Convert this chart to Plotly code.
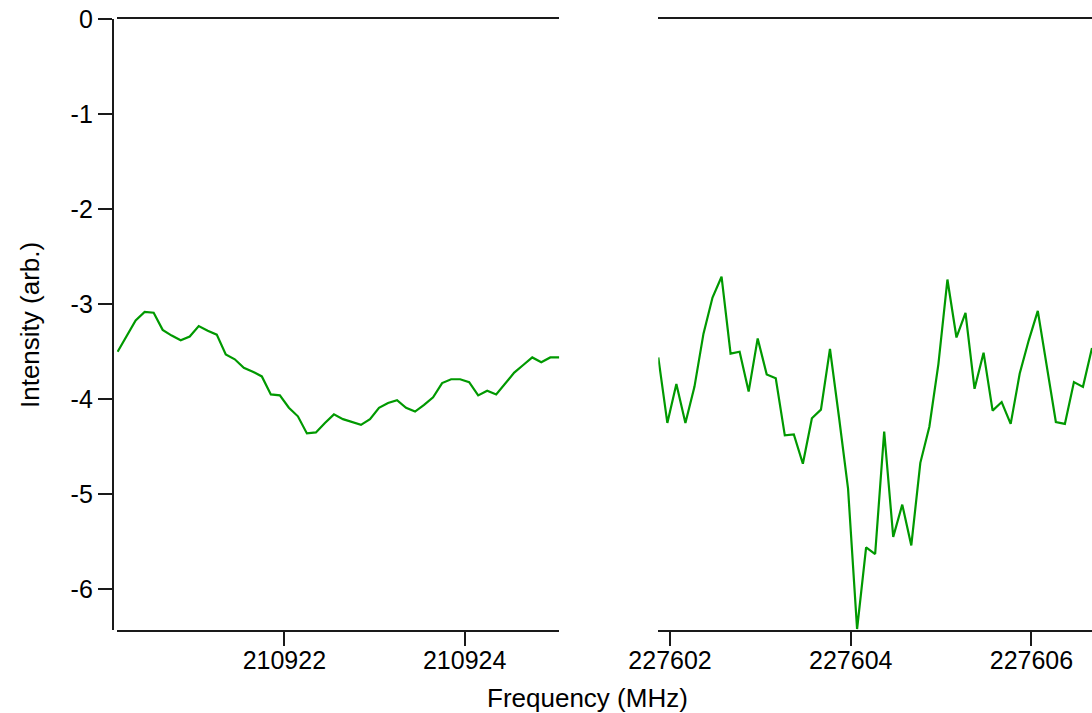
import plotly.graph_objects as go

# Spectra around two transitions (intensity in arbitrary units)
freq_a_start = 210920.15
freq_b_start = 227601.87
freq_step = 0.1

intensity_a = [
    -3.50, -3.33, -3.17, -3.08, -3.09, -3.27, -3.33, -3.38, -3.34, -3.23,
    -3.28, -3.32, -3.53, -3.58, -3.67, -3.71, -3.76, -3.95, -3.96, -4.09,
    -4.18, -4.36, -4.35, -4.25, -4.16, -4.21, -4.24, -4.27, -4.21, -4.09,
    -4.04, -4.01, -4.09, -4.13, -4.06, -3.98, -3.83, -3.79, -3.79, -3.82,
    -3.96, -3.91, -3.95, -3.84, -3.72, -3.64, -3.56, -3.61, -3.56, -3.56,
]
intensity_b = [
    -3.56, -4.25, -3.84, -4.25, -3.87, -3.31, -2.93, -2.71, -3.52, -3.50,
    -3.92, -3.36, -3.74, -3.78, -4.38, -4.37, -4.68, -4.20, -4.11, -3.47,
    -4.19, -4.94, -6.42, -5.56, -5.63, -4.34, -5.45, -5.11, -5.54, -4.67,
    -4.29, -3.63, -2.74, -3.35, -3.09, -3.89, -3.51, -4.12, -4.03, -4.26,
    -3.73, -3.38, -3.07, -3.66, -4.24, -4.26, -3.82, -3.87, -3.46,
]

freq_a = [round(freq_a_start + i * freq_step, 2) for i in range(len(intensity_a))]
freq_b = [round(freq_b_start + i * freq_step, 2) for i in range(len(intensity_b))]

y_ticks = [0, -1, -2, -3, -4, -5, -6]
y_tick_text = ["0", "-1", "-2", "-3", "-4", "-5", "-6"]
x_ticks_a = [210922, 210924]
x_ticks_b = [227602, 227604, 227606]

W, H = 1092, 713
LINE = "#009900"
AXIS = "#1a1a1a"
FONT = dict(family="Arial, Liberation Sans, sans-serif", size=25, color="#000000")

y_dom = [83 / H, (H - 19.3) / H]
y_range = [-6.43, 0]

fig = go.Figure()
fig.add_trace(go.Scatter(x=freq_a, y=intensity_a, mode="lines",
                         line=dict(color=LINE, width=2.2), xaxis="x", yaxis="y",
                         showlegend=False))
fig.add_trace(go.Scatter(x=freq_b, y=intensity_b, mode="lines",
                         line=dict(color=LINE, width=2.2), xaxis="x2", yaxis="y2",
                         showlegend=False))

xcommon = dict(showline=True, linecolor=AXIS, linewidth=1.8, mirror=True,
               ticks="outside", ticklen=14, tickwidth=1.6, tickcolor=AXIS,
               showgrid=False, zeroline=False, tickfont=FONT, automargin=False,
               tickformat="d", ticklabelstandoff=-7)

fig.update_layout(
    width=W, height=H,
    margin=dict(l=0, r=0, t=0, b=0),
    paper_bgcolor="white", plot_bgcolor="white",
    xaxis=dict(domain=[116.7 / W, 559.3 / W], range=[210920.14, 210925.05],
               anchor="y", tickvals=x_ticks_a, **xcommon),
    xaxis2=dict(domain=[658.3 / W, 1.0], range=[227601.87, 227606.67],
                anchor="y2", tickvals=x_ticks_b, **xcommon),
    yaxis=dict(domain=y_dom, range=y_range, anchor="free", position=112.7 / W,
               showline=True, linecolor=AXIS, linewidth=1.8,
               ticks="outside", ticklen=14, tickwidth=1.6, tickcolor=AXIS,
               tickvals=y_ticks, ticktext=y_tick_text, tickfont=FONT,
               showgrid=False, zeroline=False, automargin=False),
    yaxis2=dict(domain=y_dom, range=y_range, anchor="x2", visible=False,
                showgrid=False, zeroline=False),
    annotations=[
        dict(text="Frequency (MHz)", xref="paper", yref="paper",
             x=587 / W, y=(H - 698) / H, showarrow=False,
             xanchor="center", yanchor="middle", font=dict(FONT, size=26)),
        dict(text="Intensity (arb.)", xref="paper", yref="paper",
             x=30 / W, y=(H - 325) / H, showarrow=False, textangle=-90,
             xanchor="center", yanchor="middle", font=dict(FONT, size=26)),
    ],
)

fig.write_html("out.html")
